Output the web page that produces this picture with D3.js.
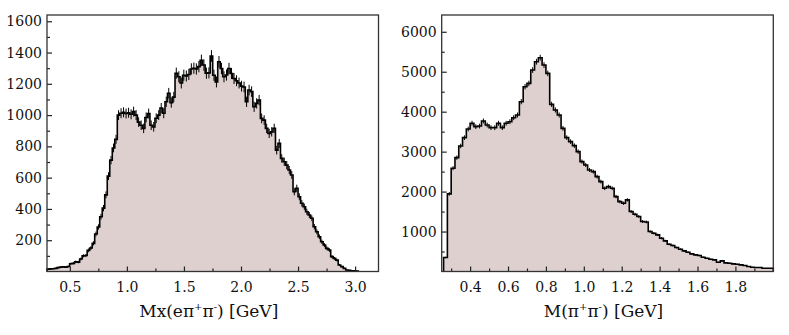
<!DOCTYPE html>
<html>
<head>
<meta charset="utf-8">
<script src="https://cdn.jsdelivr.net/npm/d3@7"></script>
<style>
  body { margin: 0; background: #fff; }
  svg { display: block; }
  text { font-family: "DejaVu Serif", serif; fill: #111; }
</style>
</head>
<body>
<svg id="chart" width="789" height="335"></svg>
<script>
// Left histogram: missing mass Mx(e pi+ pi-), bins of 0.022 GeV from 0.30
var leftStart = 0.30;
var leftWidth = 0.022;
var leftCounts = [15, 17, 18, 20, 25, 28, 30, 28, 32, 50,
  52, 62, 60, 80, 100, 102, 135, 150, 180, 240,
  285, 350, 405, 490, 610, 712, 790, 845, 1000, 1012,
  1018, 1010, 1015, 1005, 1022, 1000, 955, 935, 915, 985,
  1010, 935, 925, 980, 1000, 1045, 1012, 1085, 1140, 1080,
  1115, 1268, 1245, 1205, 1255, 1250, 1260, 1295, 1300, 1295,
  1310, 1350, 1320, 1268, 1270, 1378, 1255, 1212, 1341, 1298,
  1245, 1256, 1298, 1266, 1234, 1220, 1205, 1185, 1180, 1085,
  1160, 1150, 1053, 1075, 1096, 979, 968, 915, 883, 893,
  915, 776, 819, 723, 702, 680, 649, 617, 510, 532,
  478, 436, 414, 382, 361, 340, 286, 254, 222, 190,
  169, 148, 137, 95, 84, 73, 42, 31, 20, 10,
  8, 5, 4, 3];
var leftXTicks = [0.5, 1.0, 1.5, 2.0, 2.5, 3.0];
var leftXMinor = [0.75, 1.25, 1.75, 2.25, 2.75];
var leftYTicks = [200, 400, 600, 800, 1000, 1200, 1400, 1600];
var leftYMinor = [100, 300, 500, 700, 900, 1100, 1300, 1500];

// Right histogram: M(pi+ pi-), bins of 0.02 GeV from 0.26
var rightStart = 0.26;
var rightWidth = 0.02;
var rightCounts = [350, 1943, 2585, 2850, 3142, 3350, 3567, 3710, 3625, 3640,
  3767, 3667, 3600, 3600, 3710, 3600, 3710, 3750, 3850, 3917,
  4250, 4625, 4708, 5042, 5250, 5350, 5167, 4958, 4183, 4042,
  3917, 3583, 3350, 3250, 3150, 3000, 2750, 2667, 2542, 2500,
  2375, 2250, 2083, 2125, 2083, 1875, 1750, 1708, 1792, 1500,
  1433, 1375, 1250, 1240, 1000, 958, 917, 833, 767, 683,
  650, 600, 558, 517, 483, 442, 417, 400, 358, 333,
  308, 292, 233, 267, 217, 208, 192, 183, 167, 150,
  125, 108, 100, 100, 83, 83, 80];
var rightXTicks = [0.4, 0.6, 0.8, 1.0, 1.2, 1.4, 1.6, 1.8];
var rightXMinor = [0.3, 0.5, 0.7, 0.9, 1.1, 1.3, 1.5, 1.7, 1.9];
var rightYTicks = [1000, 2000, 3000, 4000, 5000, 6000];
var rightYMinor = [500, 1500, 2500, 3500, 4500, 5500];

var fillColor = "#ddd0cf";
var svg = d3.select("#chart");

/**
 * Draw one framed step histogram with inward ticks
 */
function drawHist(opt) {
  var x = d3.scaleLinear().domain(opt.xDomain).range([opt.left, opt.right]);
  var y = d3.scaleLinear().domain(opt.yDomain).range([opt.bottom, opt.top]);
  var g = svg.append("g");

  // outline points: up from zero, steps, back down to zero
  var pts = [[opt.start, 0]];
  opt.counts.forEach(function(c, i) {
    pts.push([opt.start + i * opt.width, c]);
    pts.push([opt.start + (i + 1) * opt.width, c]);
  });
  pts.push([opt.start + opt.counts.length * opt.width, 0]);

  var line = d3.line()
    .x(function(d) { return x(d[0]); })
    .y(function(d) { return y(d[1]); });

  g.append("path")
    .datum(pts)
    .attr("fill", fillColor)
    .attr("stroke", "none")
    .attr("d", line);

  // statistical error bars at bin centres
  g.selectAll("line.err")
    .data(opt.counts)
    .enter()
    .append("line")
    .attr("class", "err")
    .attr("x1", function(c, i) { return x(opt.start + (i + 0.5) * opt.width); })
    .attr("x2", function(c, i) { return x(opt.start + (i + 0.5) * opt.width); })
    .attr("y1", function(c) { return y(c - Math.sqrt(c)); })
    .attr("y2", function(c) { return y(c + Math.sqrt(c)); })
    .attr("stroke", "#000")
    .attr("stroke-width", 1);

  g.append("path")
    .datum(pts)
    .attr("fill", "none")
    .attr("stroke", "#000")
    .attr("stroke-width", 1.6)
    .attr("stroke-linejoin", "miter")
    .attr("d", line);

  // x axis
  g.append("g")
    .attr("transform", "translate(0," + opt.bottom + ")")
    .call(d3.axisBottom(x).tickValues(opt.xTicks).tickSize(-5).tickPadding(11)
      .tickFormat(d3.format(".1f")));
  g.append("g")
    .attr("transform", "translate(0," + opt.bottom + ")")
    .call(d3.axisBottom(x).tickValues(opt.xMinor).tickSize(-3).tickFormat(""));

  // y axis
  g.append("g")
    .attr("transform", "translate(" + opt.left + ",0)")
    .call(d3.axisLeft(y).tickValues(opt.yTicks).tickSize(-5).tickPadding(5)
      .tickFormat(d3.format("d")));
  g.append("g")
    .attr("transform", "translate(" + opt.left + ",0)")
    .call(d3.axisLeft(y).tickValues(opt.yMinor).tickSize(-3).tickFormat(""));

  g.selectAll(".domain").remove();
  g.selectAll(".tick line").attr("stroke", "#222").attr("stroke-width", 1.2);
  g.selectAll(".tick text")
    .style("font-family", "'DejaVu Serif', serif")
    .style("font-size", "14px")
    .attr("fill", "#111");

  // frame
  g.append("rect")
    .attr("x", opt.left)
    .attr("y", opt.top)
    .attr("width", opt.right - opt.left)
    .attr("height", opt.bottom - opt.top)
    .attr("fill", "none")
    .attr("stroke", "#333")
    .attr("stroke-width", 1.3);

  // axis title with superscripts (absolute px shifts so baseline returns exactly)
  var t = g.append("text")
    .attr("x", (opt.left + opt.right) / 2 + opt.labelShift)
    .attr("y", 317)
    .attr("text-anchor", "middle")
    .style("font-size", "17px");
  opt.label.forEach(function(p) {
    if (p.sup) {
      t.append("tspan").attr("dy", -7).style("font-size", "10px").text(p.sup);
    } else {
      t.append("tspan").attr("dy", p.after ? 7 : 0).text(p.t);
    }
  });
}

drawHist({
  left: 47, right: 378.5, top: 15, bottom: 271.5,
  xDomain: [0.3, 3.205], yDomain: [0, 1640],
  start: leftStart, width: leftWidth, counts: leftCounts,
  xTicks: leftXTicks, xMinor: leftXMinor,
  yTicks: leftYTicks, yMinor: leftYMinor,
  labelShift: -4,
  label: [{ t: "Mx(eπ" }, { sup: "+" }, { t: "π", after: true }, { sup: "-" }, { t: ") [GeV]", after: true }]
});

drawHist({
  left: 441.7, right: 773.3, top: 15, bottom: 271.5,
  xDomain: [0.25, 2.0], yDomain: [0, 6420],
  start: rightStart, width: rightWidth, counts: rightCounts,
  xTicks: rightXTicks, xMinor: rightXMinor,
  yTicks: rightYTicks, yMinor: rightYMinor,
  labelShift: -4,
  label: [{ t: "M(π" }, { sup: "+" }, { t: "π", after: true }, { sup: "-" }, { t: ") [GeV]", after: true }]
});
</script>
</body>
</html>
